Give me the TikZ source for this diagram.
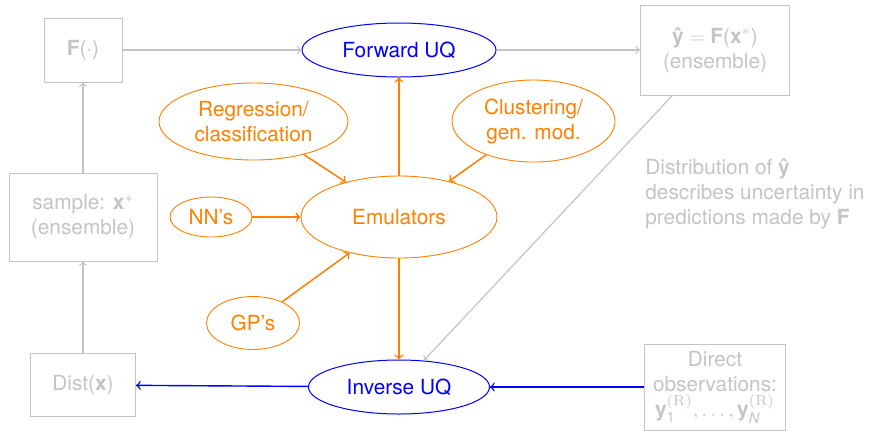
\documentclass[tikz,border=0pt]{standalone}
\usepackage{amsmath}
\usepackage{fontspec}
\setmainfont{TeX Gyre Heros}
\newfontfamily\lmroman{Latin Modern Roman}
\usetikzlibrary{shapes.geometric}
\definecolor{paleg}{RGB}{196,196,196}
\definecolor{emuorange}{RGB}{255,128,0}
\definecolor{uqblue}{RGB}{0,0,255}
\newcommand{\realsup}{^{\text{\lmroman(R)}}}
\newcommand{\bfy}{\text{\textbf{y}}}
\tikzset{
  gbox/.style={draw=paleg, line width=0.5pt, text=paleg, align=center, inner sep=0pt},
  oell/.style={ellipse, draw=emuorange, line width=0.45pt, text=emuorange, align=center, inner sep=0pt},
  bell/.style={ellipse, draw=uqblue, line width=0.5pt, text=uqblue, align=center, inner sep=0pt},
  garrow/.style={->, draw=paleg, line width=0.6pt},
  oarrow/.style={->, draw=emuorange, line width=0.75pt},
  barrow/.style={->, draw=uqblue, line width=0.7pt},
}
\begin{document}
\begin{tikzpicture}[x=0.5pt, y=-0.5pt, font=\fontsize{10.4}{12.5}\selectfont]
\useasboundingbox (0,0) rectangle (872,430);

% grey model boxes
\node[gbox, minimum width=39pt, minimum height=32pt] (F) at (83,50) {\textbf{F}(\textperiodcentered)};
\node[gbox, minimum width=74.5pt, minimum height=45pt] (yhat) at (715,50) {\textbf{ŷ}${}={}$\textbf{F}(\textbf{x}\textsuperscript{$*$})\\(ensemble)};
\node[gbox, minimum width=74pt, minimum height=44pt] (sample) at (83,217) {sample: \textbf{x}\textsuperscript{$*$}\\(ensemble)};
\node[gbox, minimum width=52.5pt, minimum height=31.5pt] (dist) at (83,385) {Dist(\textbf{x})};
\node[gbox, minimum width=70.5pt, minimum height=43pt] (obs) at (715,387)
  {Direct\\observations:\\$\bfy\realsup_{\text{1}},\ldots,\bfy\realsup_{\textit{N}}$};
\node[text=paleg, align=left, anchor=west, inner sep=0pt] (note) at (645,194)
  {Distribution of \textbf{ŷ}\\describes uncertainty in\\predictions made by \textbf{F}};

% UQ ellipses
\node[bell, minimum width=97pt, minimum height=27pt] (fwd) at (399,50) {Forward UQ};
\node[bell, minimum width=90.5pt, minimum height=27pt] (inv) at (399,387) {Inverse UQ};

% emulator ellipses
\node[oell, minimum width=98pt, minimum height=41pt] (emu) at (399,217) {Emulators};
\node[oell, minimum width=94.5pt, minimum height=38.5pt] (reg) at (253.5,121.5) {Regression/\\classification};
\node[oell, minimum width=81.5pt, minimum height=41pt] (clu) at (533.5,121) {Clustering/\\gen. mod.};
\node[oell, minimum width=41pt, minimum height=20pt] (nn) at (211,217) {NN’s};
\node[oell, minimum width=46.5pt, minimum height=26.5pt] (gp) at (253,323) {GP’s};

% grey connectors
\draw[garrow] (F) -- (fwd);
\draw[garrow] (fwd) -- (yhat);
\draw[garrow] (yhat) -- (inv);
\draw[garrow] (dist) -- (sample);
\draw[garrow] (sample) -- (F);

% emulator connectors
\draw[oarrow] (emu) -- (fwd);
\draw[oarrow] (emu) -- (inv);
\draw[oarrow] (reg) -- (emu);
\draw[oarrow] (clu) -- (emu);
\draw[oarrow] (nn) -- (emu);
\draw[oarrow] (gp) -- (emu);

% inverse UQ connectors
\draw[barrow] (inv) -- (dist);
\draw[barrow] (obs) -- (inv);
\end{tikzpicture}
\end{document}
